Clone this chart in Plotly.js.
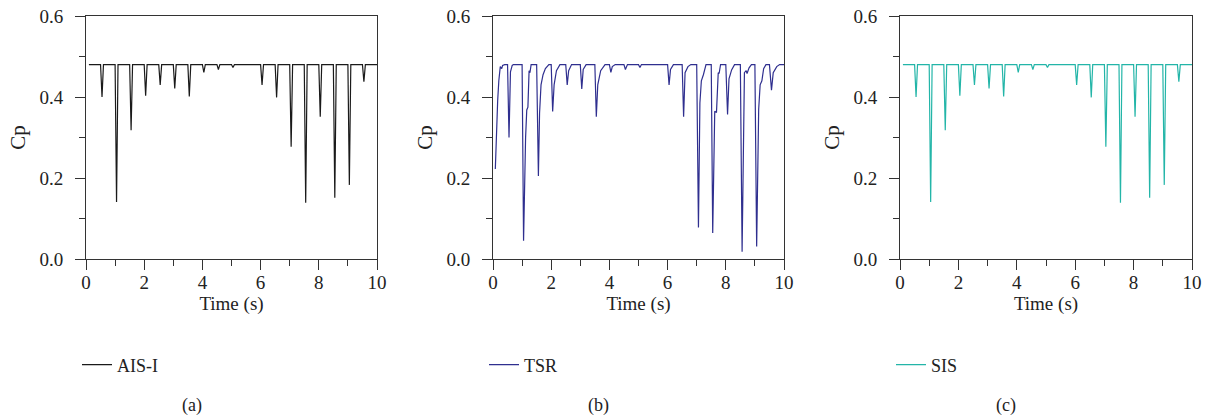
<!DOCTYPE html>
<html>
<head>
<meta charset="utf-8">
<script src="https://cdn.plot.ly/plotly-3.0.1.min.js"></script>
<style>
  html, body { margin: 0; padding: 0; background: #ffffff; }
  #chart { width: 1211px; height: 419px; }
</style>
</head>
<body>
<div id="chart"></div>
<script>
// ---- Data ----
const panelLabels = ["(a)", "(b)", "(c)"];
const seriesNames = ["AIS-I", "TSR", "SIS"];
const xTickVals = [0, 2, 4, 6, 8, 10];
const yTickVals = [0.0, 0.2, 0.4, 0.6];

// (a) AIS-I
const aisTime = [0.1,
  0.5, 0.55, 0.6,
  1.0, 1.05, 1.1,
  1.5, 1.55, 1.6,
  2.0, 2.05, 2.1,
  2.5, 2.55, 2.6,
  3.0, 3.05, 3.1,
  3.5, 3.55, 3.6,
  4.0, 4.05, 4.1,
  4.5, 4.55, 4.6,
  5.0, 5.05, 5.1,
  6.0, 6.05, 6.1,
  6.5, 6.55, 6.6,
  7.0, 7.05, 7.1,
  7.5, 7.55, 7.6,
  8.0, 8.05, 8.1,
  8.5, 8.55, 8.6,
  9.0, 9.05, 9.1,
  9.5, 9.55, 9.6,
  10.0];
const aisCp = [0.48,
  0.48, 0.400, 0.48,
  0.48, 0.141, 0.48,
  0.48, 0.318, 0.48,
  0.48, 0.403, 0.48,
  0.48, 0.430, 0.48,
  0.48, 0.421, 0.48,
  0.48, 0.401, 0.48,
  0.48, 0.461, 0.48,
  0.48, 0.468, 0.48,
  0.48, 0.473, 0.48,
  0.48, 0.430, 0.48,
  0.48, 0.399, 0.48,
  0.48, 0.277, 0.48,
  0.48, 0.139, 0.48,
  0.48, 0.351, 0.48,
  0.48, 0.151, 0.48,
  0.48, 0.183, 0.48,
  0.48, 0.438, 0.48,
  0.48];

// (b) TSR
const tsrTime = [0.08, 0.12, 0.16, 0.2, 0.25, 0.3, 0.33, 0.4,
  0.5, 0.55, 0.6, 0.66, 0.7,
  1.0, 1.05, 1.12, 1.16, 1.2, 1.24, 1.27, 1.31,
  1.5, 1.56, 1.6, 1.65, 1.72, 1.8, 1.92,
  2.0, 2.05, 2.1, 2.18, 2.3,
  2.5, 2.55, 2.6, 2.7,
  3.0, 3.05, 3.1, 3.2,
  3.5, 3.55, 3.6, 3.7, 3.85,
  4.0, 4.05, 4.1, 4.2,
  4.5, 4.55, 4.62,
  5.0, 5.05, 5.1,
  6.0, 6.05, 6.1, 6.2,
  6.5, 6.55, 6.6, 6.7, 6.8,
  7.0, 7.06, 7.11, 7.16, 7.23, 7.32,
  7.5, 7.55, 7.62, 7.68, 7.74, 7.77, 7.82,
  8.0, 8.06, 8.11, 8.2, 8.3,
  8.5, 8.56, 8.64, 8.7, 8.73, 8.8, 8.88,
  9.0, 9.06, 9.13, 9.18, 9.24, 9.3, 9.38,
  9.5, 9.57, 9.63, 9.75, 9.85,
  10.0];
const tsrCp = [0.222, 0.33, 0.39, 0.44, 0.475, 0.47, 0.478, 0.48,
  0.48, 0.300, 0.462, 0.478, 0.48,
  0.48, 0.045, 0.30, 0.368, 0.375, 0.465, 0.46, 0.48,
  0.48, 0.205, 0.36, 0.43, 0.455, 0.47, 0.48,
  0.48, 0.364, 0.43, 0.465, 0.48,
  0.48, 0.430, 0.465, 0.48,
  0.48, 0.420, 0.468, 0.48,
  0.48, 0.351, 0.43, 0.465, 0.48,
  0.48, 0.461, 0.475, 0.48,
  0.48, 0.468, 0.48,
  0.48, 0.473, 0.48,
  0.48, 0.430, 0.468, 0.48,
  0.48, 0.351, 0.46, 0.475, 0.48,
  0.48, 0.078, 0.385, 0.44, 0.455, 0.48,
  0.48, 0.064, 0.365, 0.362, 0.46, 0.458, 0.48,
  0.48, 0.357, 0.445, 0.467, 0.48,
  0.48, 0.018, 0.46, 0.465, 0.458, 0.472, 0.48,
  0.48, 0.031, 0.37, 0.43, 0.44, 0.47, 0.48,
  0.48, 0.417, 0.46, 0.475, 0.48,
  0.48];

// (c) SIS
const sisTime = [0.1,
  0.5, 0.55, 0.6,
  1.0, 1.05, 1.1,
  1.5, 1.55, 1.6,
  2.0, 2.05, 2.1,
  2.5, 2.55, 2.6,
  3.0, 3.05, 3.1,
  3.5, 3.55, 3.6,
  4.0, 4.05, 4.1,
  4.5, 4.55, 4.6,
  5.0, 5.05, 5.1,
  6.0, 6.05, 6.1,
  6.5, 6.55, 6.6,
  7.0, 7.05, 7.1,
  7.5, 7.55, 7.6,
  8.0, 8.05, 8.1,
  8.5, 8.55, 8.6,
  9.0, 9.05, 9.1,
  9.5, 9.55, 9.6,
  10.0];
const sisCp = [0.48,
  0.48, 0.400, 0.48,
  0.48, 0.141, 0.48,
  0.48, 0.318, 0.48,
  0.48, 0.403, 0.48,
  0.48, 0.430, 0.48,
  0.48, 0.421, 0.48,
  0.48, 0.401, 0.48,
  0.48, 0.461, 0.48,
  0.48, 0.468, 0.48,
  0.48, 0.473, 0.48,
  0.48, 0.430, 0.48,
  0.48, 0.399, 0.48,
  0.48, 0.277, 0.48,
  0.48, 0.139, 0.48,
  0.48, 0.351, 0.48,
  0.48, 0.151, 0.48,
  0.48, 0.183, 0.48,
  0.48, 0.438, 0.48,
  0.48];

// ---- Styling ----
const W = 1211, H = 419;
const FONT = "Liberation Serif, Times New Roman, serif";
const colors = ["#1a1a1a", "#2f2f8f", "#23b5a8"];
const xDomainsPx = [[86, 377], [493, 784], [900, 1192]];
const yDomain = [(H - 259) / H, (H - 16) / H];

const times = [aisTime, tsrTime, sisTime];
const values = [aisCp, tsrCp, sisCp];
const legendIds = ["legend", "legend2", "legend3"];

const traces = [0, 1, 2].map(i => ({
  type: "scatter",
  mode: "lines",
  x: times[i],
  y: values[i],
  name: seriesNames[i],
  xaxis: i === 0 ? "x" : "x" + (i + 1),
  yaxis: i === 0 ? "y" : "y" + (i + 1),
  legend: legendIds[i],
  line: { color: colors[i], width: 1.2 },
  showlegend: true
}));

const axisCommon = {
  showline: true, mirror: true, linecolor: "#333333", linewidth: 1,
  showgrid: false, zeroline: false, ticks: "outside", ticklen: 10,
  tickwidth: 1, tickcolor: "#333333",
  tickfont: { family: FONT, size: 19, color: "#222222" },
  automargin: false
};

const layout = {
  width: W, height: H,
  margin: { l: 0, r: 0, t: 0, b: 0 },
  paper_bgcolor: "#ffffff", plot_bgcolor: "#ffffff",
  font: { family: FONT, size: 18, color: "#222222" },
  annotations: [],
  showlegend: true
};

for (let i = 0; i < 3; i++) {
  const sx = i === 0 ? "" : String(i + 1);
  layout["xaxis" + sx] = Object.assign({}, axisCommon, {
    domain: [xDomainsPx[i][0] / W, xDomainsPx[i][1] / W],
    anchor: "y" + sx,
    range: [0, 10],
    tickvals: xTickVals,
    ticktext: xTickVals.map(v => String(v)),
    ticklabelstandoff: -4,
    minor: { tickvals: [1, 3, 5, 7, 9], ticklen: 6, ticks: "outside", tickcolor: "#333333", tickwidth: 1 },
    title: { text: "Time (s)", font: { family: FONT, size: 19, color: "#222222" }, standoff: 3 }
  });
  layout["yaxis" + sx] = Object.assign({}, axisCommon, {
    domain: yDomain,
    anchor: "x" + sx,
    range: [0, 0.6],
    tickvals: yTickVals,
    ticktext: yTickVals.map(v => v.toFixed(1)),
    ticklabelstandoff: 8,
    minor: { tickvals: [0.1, 0.3, 0.5], ticklen: 6, ticks: "outside", tickcolor: "#333333", tickwidth: 1 },
    title: { text: "Cp", font: { family: FONT, size: 21, color: "#222222" }, standoff: 8 }
  });
  layout[legendIds[i]] = {
    x: (xDomainsPx[i][0] - 9) / W, xanchor: "left",
    y: (H - 365) / H, yanchor: "middle",
    bgcolor: "rgba(0,0,0,0)", borderwidth: 0,
    font: { family: FONT, size: 18, color: "#222222" },
    orientation: "h"
  };
  layout.annotations.push({
    xref: "paper", yref: "paper",
    x: (xDomainsPx[i][0] + xDomainsPx[i][1]) / 2 / W - 0.033,
    y: (H - 405) / H,
    xanchor: "center", yanchor: "middle",
    text: panelLabels[i], showarrow: false,
    font: { family: FONT, size: 18, color: "#222222" }
  });
}

Plotly.newPlot("chart", traces, layout, { displayModeBar: false, staticPlot: true });
</script>
</body>
</html>
